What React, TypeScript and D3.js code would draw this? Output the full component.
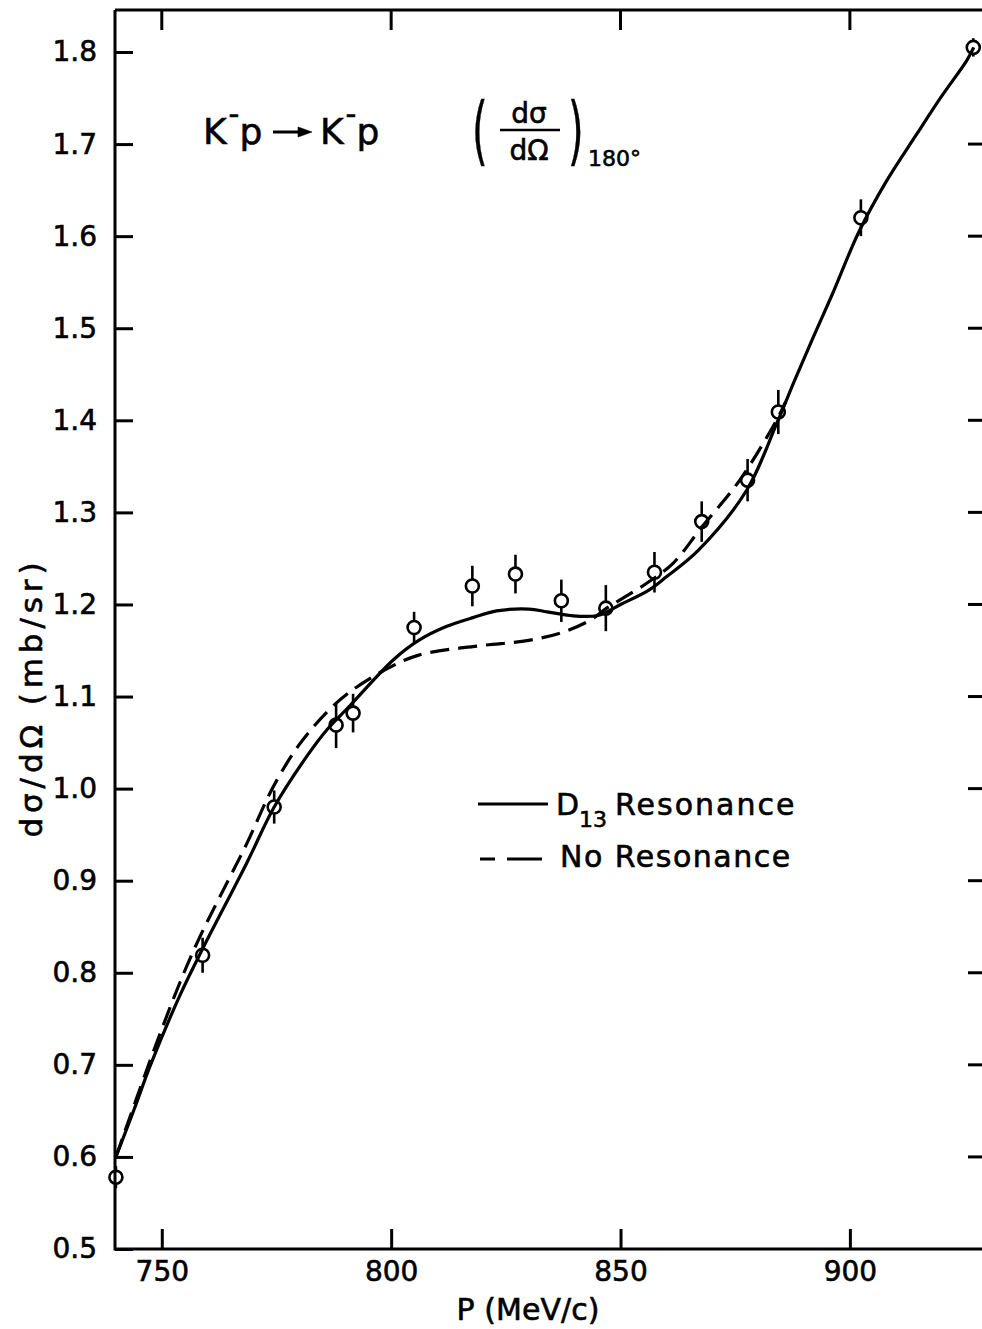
import * as d3 from "d3";
import React, { useEffect, useRef } from "react";

// measured points: momentum (MeV/c), d sigma / d Omega at 180 deg (mb/sr), half error
const pMeas = [740, 758.9, 774.5, 788, 791.7, 805, 817.7, 827.1, 837.1, 846.8, 857.4, 867.7, 877.7, 884.4, 902.4, 926.9];
const sigMeas = [0.578, 0.819, 0.98, 1.069, 1.082, 1.175, 1.22, 1.233, 1.204, 1.196, 1.235, 1.29, 1.335, 1.409, 1.62, 1.805];
const sigErr = [0.012, 0.019, 0.018, 0.025, 0.021, 0.017, 0.022, 0.021, 0.023, 0.025, 0.022, 0.022, 0.023, 0.024, 0.02, 0.01];

// D13 resonance fit (solid)
const d13P = [740, 744, 747.4, 754, 758.9, 768.5, 774.5, 781.6, 786, 791, 800.5, 806, 812, 818, 823, 830, 834, 839, 845, 850, 856, 860, 867, 877.5, 884, 888, 892, 896, 902, 908, 914.6, 920, 925.5, 927];
const d13Sig = [0.6, 0.652, 0.698, 0.776, 0.826, 0.919, 0.98, 1.035, 1.064, 1.09, 1.14, 1.161, 1.176, 1.186, 1.193, 1.195, 1.192, 1.188, 1.188, 1.2, 1.215, 1.23, 1.259, 1.324, 1.396, 1.444, 1.49, 1.535, 1.605, 1.66, 1.711, 1.752, 1.791, 1.805];

// no resonance fit (dashed)
const noResP = [740, 748, 754, 758.3, 762.7, 768.5, 774.3, 780, 786, 791, 798.3, 806, 819, 830, 837.5, 843.4, 847, 855.7, 861.5, 867.7, 876, 884, 886];
const noResSig = [0.6, 0.712, 0.79, 0.839, 0.883, 0.94, 1.002, 1.048, 1.083, 1.105, 1.128, 1.145, 1.155, 1.161, 1.17, 1.183, 1.196, 1.223, 1.245, 1.284, 1.335, 1.4, 1.42];

const xTicks = [750, 800, 850, 900];
const yTicks = [0.5, 0.6, 0.7, 0.8, 0.9, 1.0, 1.1, 1.2, 1.3, 1.4, 1.5, 1.6, 1.7, 1.8];
const rightTicks = [0.6, 0.7, 0.8, 0.9, 1.0, 1.1, 1.2, 1.3, 1.4, 1.5, 1.6, 1.7];

const FONT = "DejaVu Sans";

const App: React.FC = () => {
  const svgRef = useRef<SVGSVGElement>(null);

  useEffect(() => {
    if (!svgRef.current) return;
    const svg = d3.select(svgRef.current);
    svg.selectAll("*").remove();

    const width = 982,
      height = 1329;

    svg.append("rect").attr("width", width).attr("height", height).attr("fill", "#fff");

    const x = d3.scaleLinear().domain([739.8, 928.8]).range([115, 982]);
    const y = d3.scaleLinear().domain([0.5, 1.8]).range([1249, 52]);
    const yTop = y(1.8456);

    // frame: left, bottom, top
    const frame = svg.append("g").attr("stroke", "#000").attr("stroke-width", 3).attr("fill", "none");
    frame.append("line").attr("x1", x.range()[0]).attr("x2", x.range()[0]).attr("y1", yTop).attr("y2", y(0.5) + 1.5);
    frame.append("line").attr("x1", x.range()[0]).attr("x2", x.range()[1]).attr("y1", y(0.5)).attr("y2", y(0.5));
    frame.append("line").attr("x1", x.range()[0]).attr("x2", x.range()[1]).attr("y1", yTop).attr("y2", yTop);

    // left axis, ticks pointing inward
    const yAxis = svg
      .append("g")
      .attr("transform", `translate(${x.range()[0]},0)`)
      .call(d3.axisLeft(y).tickValues(yTicks).tickFormat(d3.format(".1f")).tickSize(-18).tickPadding(18));
    yAxis.select(".domain").remove();
    yAxis.selectAll(".tick line").attr("stroke-width", 3);
    yAxis
      .selectAll(".tick text")
      .attr("font-family", FONT)
      .attr("font-size", 28)
      .attr("fill", "#000")
      .attr("stroke", "#000")
      .attr("stroke-width", 0.6);

    // bottom axis
    const xAxis = svg
      .append("g")
      .attr("transform", `translate(0,${y(0.5)})`)
      .call(d3.axisBottom(x).tickValues(xTicks).tickFormat(d3.format("d")).tickSize(-20).tickPadding(12));
    xAxis.select(".domain").remove();
    xAxis.selectAll(".tick line").attr("stroke-width", 3);
    xAxis
      .selectAll(".tick text")
      .attr("font-family", FONT)
      .attr("font-size", 28)
      .attr("fill", "#000")
      .attr("stroke", "#000")
      .attr("stroke-width", 0.6);

    // top ticks
    svg
      .append("g")
      .selectAll("line")
      .data(xTicks)
      .enter()
      .append("line")
      .attr("x1", (d) => x(d))
      .attr("x2", (d) => x(d))
      .attr("y1", yTop)
      .attr("y2", yTop + 20)
      .attr("stroke", "#000")
      .attr("stroke-width", 3);

    // right ticks
    svg
      .append("g")
      .selectAll("line")
      .data(rightTicks)
      .enter()
      .append("line")
      .attr("x1", x.range()[1])
      .attr("x2", x.range()[1] - 14)
      .attr("y1", (d) => y(d))
      .attr("y2", (d) => y(d))
      .attr("stroke", "#000")
      .attr("stroke-width", 3);

    // curves
    const line = d3
      .line<[number, number]>()
      .x((d) => x(d[0]))
      .y((d) => y(d[1]))
      .curve(d3.curveCatmullRom.alpha(0.5));

    svg
      .append("path")
      .attr("d", line(d13P.map((p, i) => [p, d13Sig[i]] as [number, number])))
      .attr("fill", "none")
      .attr("stroke", "#000")
      .attr("stroke-width", 3.2);

    svg
      .append("path")
      .attr("d", line(noResP.map((p, i) => [p, noResSig[i]] as [number, number])))
      .attr("fill", "none")
      .attr("stroke", "#000")
      .attr("stroke-width", 3.2)
      .attr("stroke-dasharray", "19 9");

    // data points with error bars
    const r = 6.5;
    const pts = pMeas.map((p, i) => ({ p, s: sigMeas[i], e: sigErr[i] }));
    const pg = svg.append("g").attr("stroke", "#000").attr("stroke-width", 2.6);
    pg.selectAll(".eb-up")
      .data(pts)
      .enter()
      .append("line")
      .attr("class", "eb-up")
      .attr("x1", (d) => x(d.p))
      .attr("x2", (d) => x(d.p))
      .attr("y1", (d) => y(d.s + d.e))
      .attr("y2", (d) => y(d.s) - r);
    pg.selectAll(".eb-dn")
      .data(pts)
      .enter()
      .append("line")
      .attr("class", "eb-dn")
      .attr("x1", (d) => x(d.p))
      .attr("x2", (d) => x(d.p))
      .attr("y1", (d) => y(d.s - d.e))
      .attr("y2", (d) => y(d.s) + r);
    pg.selectAll("circle")
      .data(pts)
      .enter()
      .append("circle")
      .attr("cx", (d) => x(d.p))
      .attr("cy", (d) => y(d.s))
      .attr("r", r)
      .attr("fill", "none");

    // axis titles
    svg
      .append("text")
      .attr("x", 528)
      .attr("y", 1320)
      .attr("text-anchor", "middle")
      .attr("font-family", FONT)
      .attr("font-size", 30)
      .attr("stroke", "#000")
      .attr("stroke-width", 0.6)
      .attr("textLength", 143)
      .attr("lengthAdjust", "spacing")
      .text("P (MeV/c)");

    svg
      .append("text")
      .attr("transform", "translate(42,700) rotate(-90)")
      .attr("text-anchor", "middle")
      .attr("font-family", FONT)
      .attr("font-size", 31)
      .attr("stroke", "#000")
      .attr("stroke-width", 0.6)
      .attr("textLength", 275)
      .attr("lengthAdjust", "spacing")
      .text("dσ/dΩ (mb/sr)");

    // reaction label
    const reac = svg
      .append("g")
      .attr("font-family", FONT)
      .attr("fill", "#000")
      .attr("stroke", "#000")
      .attr("stroke-width", 0.6);
    const k1 = reac.append("text").attr("x", 203).attr("y", 144).attr("font-size", 36);
    k1.append("tspan").text("K");
    k1.append("tspan").attr("font-size", 30).attr("dy", -20).attr("dx", 2).text("-");
    k1.append("tspan").attr("dy", 20).text("p");
    reac
      .append("line")
      .attr("x1", 273)
      .attr("x2", 300)
      .attr("y1", 132)
      .attr("y2", 132)
      .attr("stroke-width", 3);
    reac.append("path").attr("d", "M298,127 L312,132 L298,137 Z");
    const k2 = reac.append("text").attr("x", 320).attr("y", 144).attr("font-size", 36);
    k2.append("tspan").text("K");
    k2.append("tspan").attr("font-size", 30).attr("dy", -20).attr("dx", 2).text("-");
    k2.append("tspan").attr("dy", 20).text("p");

    // (dσ/dΩ)_180°
    reac.append("text").attr("transform", "translate(472,156) scale(1,1.85)").attr("font-size", 40).attr("stroke-width", 0.3).text("(");
    reac.append("text").attr("transform", "translate(568,156) scale(1,1.85)").attr("font-size", 40).attr("stroke-width", 0.3).text(")");
    reac.append("text").attr("x", 529).attr("y", 123).attr("text-anchor", "middle").attr("font-size", 28).text("dσ");
    reac
      .append("line")
      .attr("x1", 500)
      .attr("x2", 560)
      .attr("y1", 130)
      .attr("y2", 130)
      .attr("stroke-width", 2.5);
    reac.append("text").attr("x", 529).attr("y", 160).attr("text-anchor", "middle").attr("font-size", 28).text("dΩ");
    reac.append("text").attr("x", 588).attr("y", 166).attr("font-size", 22).text("180°");

    // legend
    const leg = svg
      .append("g")
      .attr("font-family", FONT)
      .attr("fill", "#000")
      .attr("stroke", "#000")
      .attr("stroke-width", 0.6);
    leg.append("line").attr("x1", 478).attr("x2", 548).attr("y1", 804).attr("y2", 804).attr("stroke-width", 3);
    const l1 = leg.append("text").attr("x", 556).attr("y", 815).attr("font-size", 30);
    l1.append("tspan").text("D");
    l1.append("tspan").attr("font-size", 22).attr("dy", 12).text("13");
    l1.append("tspan").attr("dy", -12).attr("dx", 8).attr("letter-spacing", 2).text("Resonance");
    leg
      .append("line")
      .attr("x1", 480)
      .attr("x2", 542)
      .attr("y1", 859)
      .attr("y2", 859)
      .attr("stroke-width", 3)
      .attr("stroke-dasharray", "15 12 35");
    leg
      .append("text")
      .attr("x", 560)
      .attr("y", 867)
      .attr("font-size", 30)
      .attr("letter-spacing", 1.5)
      .text("No Resonance");
  }, []);

  return (
    <svg
      ref={svgRef}
      width={982}
      height={1329}
      style={{ position: "absolute", left: 0, top: 0, display: "block" }}
    />
  );
};

export default App;
